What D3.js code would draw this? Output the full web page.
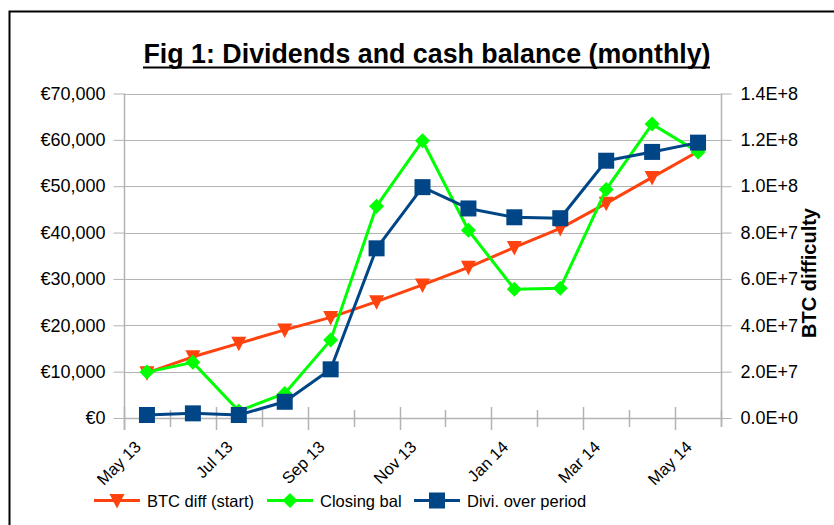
<!DOCTYPE html>
<html><head><meta charset="utf-8">
<script src="https://cdn.jsdelivr.net/npm/d3@7"></script>
<style>
html,body{margin:0;padding:0;background:#fff;}
svg{display:block;}
text{font-family:"Liberation Sans",Arial,sans-serif;fill:#000;}
</style></head>
<body>
<svg id="chart" width="834" height="525"></svg>
<script>
const months = ["May 13","Jun 13","Jul 13","Aug 13","Sep 13","Oct 13","Nov 13","Dec 13","Jan 14","Feb 14","Mar 14","Apr 14","May 14"];
const btcDiff = [19.5e6,26.4e6,32.2e6,38.0e6,43.4e6,50.2e6,57.4e6,65.0e6,73.6e6,81.8e6,92.6e6,103.8e6,115.0e6];
const closingBal = [9900,12000,1500,5300,16800,45700,59800,40500,27800,28000,49300,63400,57400];
const diviPeriod = [650,1000,650,3500,10500,36600,49800,45200,43300,43100,55500,57400,59400];
const leftTicks = [0,10000,20000,30000,40000,50000,60000,70000];
const rightTicks = [0,2e7,4e7,6e7,8e7,1e8,1.2e8,1.4e8];
const title = "Fig 1: Dividends and cash balance (monthly)";
const seriesNames = ["BTC diff (start)","Closing bal","Divi. over period"];

const colRed = "#ff420e", colGreen = "#00ff00", colBlue = "#004586", gridCol = "#b3b3b3";

const svg = d3.select("#chart");
const L = 124, R = 721, T = 93.5, B = 418;

// frame (left and top edges)
svg.append("path").attr("d", `M9.5,525 L9.5,11.5 L834,11.5`).attr("fill","none").attr("stroke","#000").attr("stroke-width",2);

// title
svg.append("text").attr("x", 427).attr("y", 63).attr("text-anchor","middle")
  .style("font-family",'"Liberation Sans Narrow","Liberation Sans",Arial,sans-serif')
  .style("font-weight","bold").style("font-size","28px")
  .attr("textLength", 567).attr("lengthAdjust","spacingAndGlyphs").text(title);
svg.append("line").attr("x1",143).attr("x2",710).attr("y1",67.5).attr("y2",67.5).attr("stroke","#000").attr("stroke-width",2);

const x = d3.scaleBand().domain(months).range([L, R]).padding(0);
const yL = d3.scaleLinear().domain([0,70000]).range([B, T]);
const yR = d3.scaleLinear().domain([0,1.4e8]).range([B, T]);

// gridlines
svg.append("g").selectAll("line").data(leftTicks).join("line")
  .attr("x1", L).attr("x2", R).attr("y1", d=>Math.round(yL(d))+0.5).attr("y2", d=>Math.round(yL(d))+0.5)
  .attr("stroke", gridCol).attr("stroke-width",1);

// left axis
const fmtEuro = d => "€" + d3.format(",")(d);
const gL = svg.append("g").attr("transform", `translate(${L+0.5},0)`)
  .call(d3.axisLeft(yL).tickValues(leftTicks).tickFormat(fmtEuro).tickSize(11).tickPadding(8));
gL.select(".domain").remove();
gL.selectAll(".tick line").attr("stroke", gridCol);
gL.selectAll(".tick text").style("font-size","18px").style("font-family",'"Liberation Sans",Arial,sans-serif').attr("fill","#000");
svg.append("line").attr("x1",L+0.5).attr("x2",L+0.5).attr("y1",T).attr("y2",430).attr("stroke",gridCol).attr("stroke-width",1.5);

// right axis
const fmtSci = d => { if (d===0) return "0.0E+0"; const e = Math.floor(Math.log10(d)); return (d/Math.pow(10,e)).toFixed(1)+"E+"+e; };
const gR = svg.append("g").attr("transform", `translate(${R+0.5},0)`)
  .call(d3.axisRight(yR).tickValues(rightTicks).tickFormat(fmtSci).tickSize(10).tickPadding(9));
gR.select(".domain").remove();
gR.selectAll(".tick line").attr("stroke", gridCol);
gR.selectAll(".tick text").style("font-size","18px").style("font-family",'"Liberation Sans",Arial,sans-serif').attr("fill","#000");
svg.append("line").attr("x1",R+0.5).attr("x2",R+0.5).attr("y1",T).attr("y2",427).attr("stroke",gridCol).attr("stroke-width",1.5);

svg.append("text").attr("transform", `translate(816,273) rotate(-90)`).attr("text-anchor","middle")
  .style("font-weight","bold").style("font-size","20px").text("BTC difficulty");

// x axis
svg.append("line").attr("x1",L).attr("x2",R).attr("y1",B+0.5).attr("y2",B+0.5).attr("stroke",gridCol).attr("stroke-width",1.5);
const bounds = d3.range(months.length+1);
svg.append("g").selectAll("line").data(bounds).join("line")
  .attr("x1", k => Math.round(L + k*x.bandwidth())+0.5).attr("x2", k => Math.round(L + k*x.bandwidth())+0.5)
  .attr("y1", k => k%2===0 ? B-11 : B-8).attr("y2", k => k%2===0 ? B+12 : B+9)
  .attr("stroke", gridCol).attr("stroke-width",1.5);
svg.append("g").selectAll("text").data(months.filter((m,i)=>i%2===0)).join("text")
  .attr("transform", m => `translate(${x(m)+x.bandwidth()/2-5},448) rotate(-45)`)
  .attr("text-anchor","end").style("font-size","16.5px").text(m => m);

// series
const cx = m => x(m) + x.bandwidth()/2;
function drawLine(vals, scale, col){
  const line = d3.line().x((d,i)=>cx(months[i])).y(d=>scale(d));
  svg.append("path").datum(vals).attr("d", line).attr("fill","none").attr("stroke",col).attr("stroke-width",3).attr("stroke-linejoin","round");
}
const triPath = "M-7.5,-6.5 L7.5,-6.5 L0,8 Z";
const diaPath = "M0,-7.5 L7.5,0 L0,7.5 L-7.5,0 Z";
const sqPath = "M-8,-8 L8,-8 L8,8 L-8,8 Z";
function drawMarkers(vals, scale, col, path){
  svg.append("g").selectAll("path").data(vals).join("path")
    .attr("transform", (d,i)=>`translate(${cx(months[i])},${scale(d)})`)
    .attr("d", path).attr("fill", col);
}
drawLine(btcDiff, yR, colRed); drawMarkers(btcDiff, yR, colRed, triPath);
drawLine(closingBal, yL, colGreen); drawMarkers(closingBal, yL, colGreen, diaPath);
drawLine(diviPeriod, yL, colBlue); drawMarkers(diviPeriod, yL, colBlue, sqPath);

// legend
const legend = [
  {name: seriesNames[0], col: colRed, path: triPath, x0: 94},
  {name: seriesNames[1], col: colGreen, path: diaPath, x0: 267},
  {name: seriesNames[2], col: colBlue, path: sqPath, x0: 414}
];
const lg = svg.append("g");
legend.forEach(l => {
  lg.append("line").attr("x1", l.x0).attr("x2", l.x0+46).attr("y1",500.5).attr("y2",500.5).attr("stroke", l.col).attr("stroke-width",3);
  lg.append("path").attr("transform", `translate(${l.x0+23},500.5)`).attr("d", l.path).attr("fill", l.col);
  lg.append("text").attr("x", l.x0+53).attr("y", 507).style("font-size","16.5px").text(l.name);
});
</script>
</body></html>
